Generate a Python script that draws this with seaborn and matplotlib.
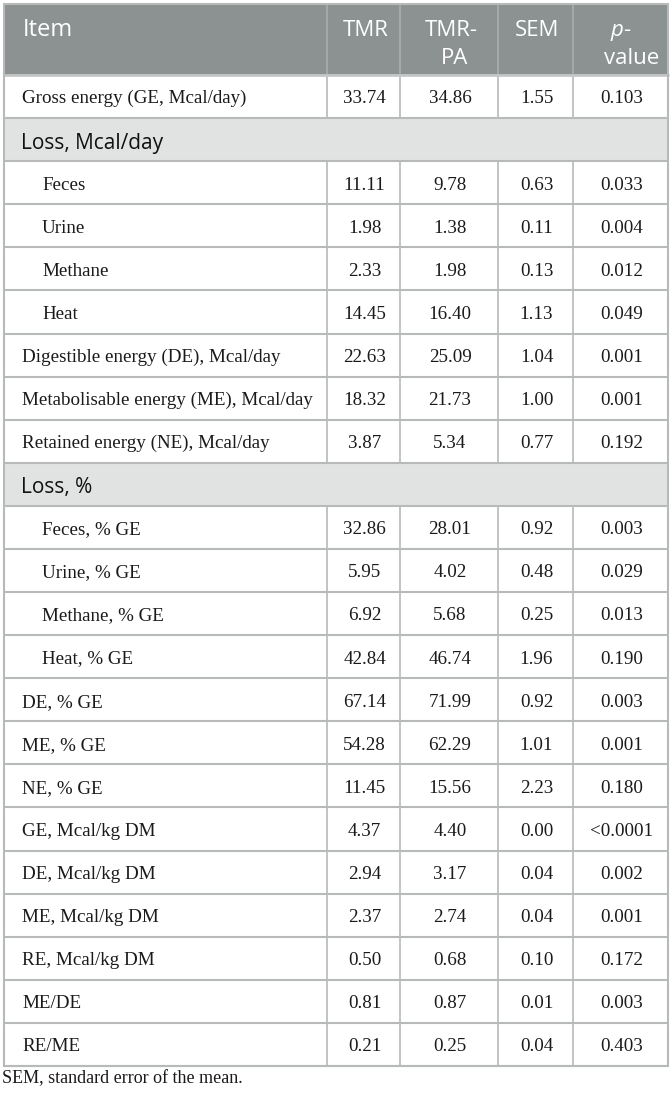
import matplotlib
matplotlib.use("Agg")
import matplotlib.pyplot as plt
from matplotlib.patches import Rectangle
import seaborn as sns

# ---------------- data ----------------
headers = ["Item", "TMR", "TMR-\nPA", "SEM", "p-\nvalue"]
items = ["Gross energy (GE, Mcal/day)", "Loss, Mcal/day", "Feces", "Urine", "Methane", "Heat",
         "Digestible energy (DE), Mcal/day", "Metabolisable energy (ME), Mcal/day",
         "Retained energy (NE), Mcal/day", "Loss, %", "Feces, % GE", "Urine, % GE",
         "Methane, % GE", "Heat, % GE", "DE, % GE", "ME, % GE", "NE, % GE",
         "GE, Mcal/kg DM", "DE, Mcal/kg DM", "ME, Mcal/kg DM", "RE, Mcal/kg DM",
         "ME/DE", "RE/ME"]
row_kind = ["row", "section", "sub", "sub", "sub", "sub", "row", "row", "row", "section",
            "sub", "sub", "sub", "sub", "row", "row", "row", "row", "row", "row", "row",
            "row", "row"]
tmr = ["33.74", "", "11.11", "1.98", "2.33", "14.45", "22.63", "18.32", "3.87", "",
       "32.86", "5.95", "6.92", "42.84", "67.14", "54.28", "11.45", "4.37", "2.94", "2.37",
       "0.50", "0.81", "0.21"]
tmr_pa = ["34.86", "", "9.78", "1.38", "1.98", "16.40", "25.09", "21.73", "5.34", "",
          "28.01", "4.02", "5.68", "46.74", "71.99", "62.29", "15.56", "4.40", "3.17", "2.74",
          "0.68", "0.87", "0.25"]
sem = ["1.55", "", "0.63", "0.11", "0.13", "1.13", "1.04", "1.00", "0.77", "",
       "0.92", "0.48", "0.25", "1.96", "0.92", "1.01", "2.23", "0.00", "0.04", "0.04",
       "0.10", "0.01", "0.04"]
pval = ["0.103", "", "0.033", "0.004", "0.012", "0.049", "0.001", "0.001", "0.192", "",
        "0.003", "0.029", "0.013", "0.190", "0.003", "0.001", "0.180", "<0.0001", "0.002",
        "0.001", "0.172", "0.003", "0.403"]
footnote = "SEM, standard error of the mean."

# ---------------- layout ----------------
sns.set_theme(style="white")
W, H = 672, 1093
fig = plt.figure(figsize=(W / 100, H / 100), dpi=100)
ax = fig.add_axes([0, 0, 1, 1])
ax.set_xlim(0, W)
ax.set_ylim(H, 0)
ax.axis("off")

col_x = [4, 327, 400, 498, 573, 668]
top, head_bot, bottom = 4, 75, 1066
n = len(items)
rh = (bottom - head_bot) / n

HEAD_BG = "#8c9292"
HEAD_SEP = "#a9aeae"
SEC_BG = "#e1e2e2"
GRID = "#b8baba"
TXT = "#1a1a1a"

serif = ["Liberation Serif", "DejaVu Serif"]
sans = ["Open Sans", "DejaVu Sans"]
HFS = 16
BFS = 13.7

# header
ax.add_patch(Rectangle((col_x[0], top), col_x[-1] - col_x[0], head_bot - top,
                       facecolor=HEAD_BG, edgecolor="none", zorder=1))
for xv in col_x[1:-1]:
    ax.plot([xv, xv], [top, head_bot], color=HEAD_SEP, lw=1.2, zorder=2)

line1_y, line2_y = top + 32, top + 60
for j, h in enumerate(headers):
    lines = h.split("\n")
    if j == 0:
        ax.text(col_x[0] + 19, line1_y, h, ha="left", va="baseline", color="white",
                fontsize=17, family=sans, zorder=3)
    elif j == 4:
        xl = col_x[j] + 31
        ax.text(xl + 6, line1_y, lines[0][0], ha="left", va="baseline", color="white",
                fontsize=HFS, family=sans, style="italic", zorder=3)
        ax.text(xl + 19, line1_y, lines[0][1:], ha="left", va="baseline", color="white",
                fontsize=HFS, family=sans, zorder=3)
        ax.text(xl, line2_y, lines[1], ha="left", va="baseline", color="white",
                fontsize=HFS, family=sans, zorder=3)
    else:
        cx = (col_x[j] + col_x[j + 1]) / 2 + 2
        for k, ln in enumerate(lines):
            ax.text(cx + (4 if k == 1 else 0), [line1_y, line2_y][k], ln, ha="center",
                    va="baseline", color="white", fontsize=HFS, family=sans, zorder=3)

# rows
for i in range(n):
    y0 = head_bot + i * rh
    kind = row_kind[i]
    if kind == "section":
        ax.add_patch(Rectangle((col_x[0], y0), col_x[-1] - col_x[0], rh,
                               facecolor=SEC_BG, edgecolor="none", zorder=1))
        ax.text(col_x[0] + 17, y0 + rh * 0.71, items[i], ha="left", va="baseline",
                color="#111111", fontsize=15, family=sans, zorder=3)
    else:
        indent = 38 if kind == "sub" else 18
        ax.text(col_x[0] + indent, y0 + rh * 0.66, items[i], ha="left", va="baseline",
                color=TXT, fontsize=BFS, family=serif, zorder=3)
        for j, vals in enumerate([tmr, tmr_pa, sem, pval]):
            cx = (col_x[j + 1] + col_x[j + 2]) / 2 + 1
            ax.text(cx, y0 + rh * 0.66, vals[i], ha="center", va="baseline",
                    color=TXT, fontsize=BFS, family=serif, zorder=3)
        for xv in col_x[1:-1]:
            ax.plot([xv, xv], [y0, y0 + rh], color=GRID, lw=1.2, zorder=2)
    ax.plot([col_x[0], col_x[-1]], [y0 + rh, y0 + rh], color=GRID, lw=1.5, zorder=2)

ax.plot([col_x[0], col_x[-1]], [head_bot, head_bot], color="#c4c7c7", lw=2, zorder=2)
# outer border
ax.add_patch(Rectangle((col_x[0], top), col_x[-1] - col_x[0], bottom - top,
                       facecolor="none", edgecolor=GRID, lw=1.5, zorder=4))

ax.text(2, 1083, footnote, ha="left", va="baseline", color=TXT,
        fontsize=13, family=serif)

fig.savefig("out.png", dpi=100)
